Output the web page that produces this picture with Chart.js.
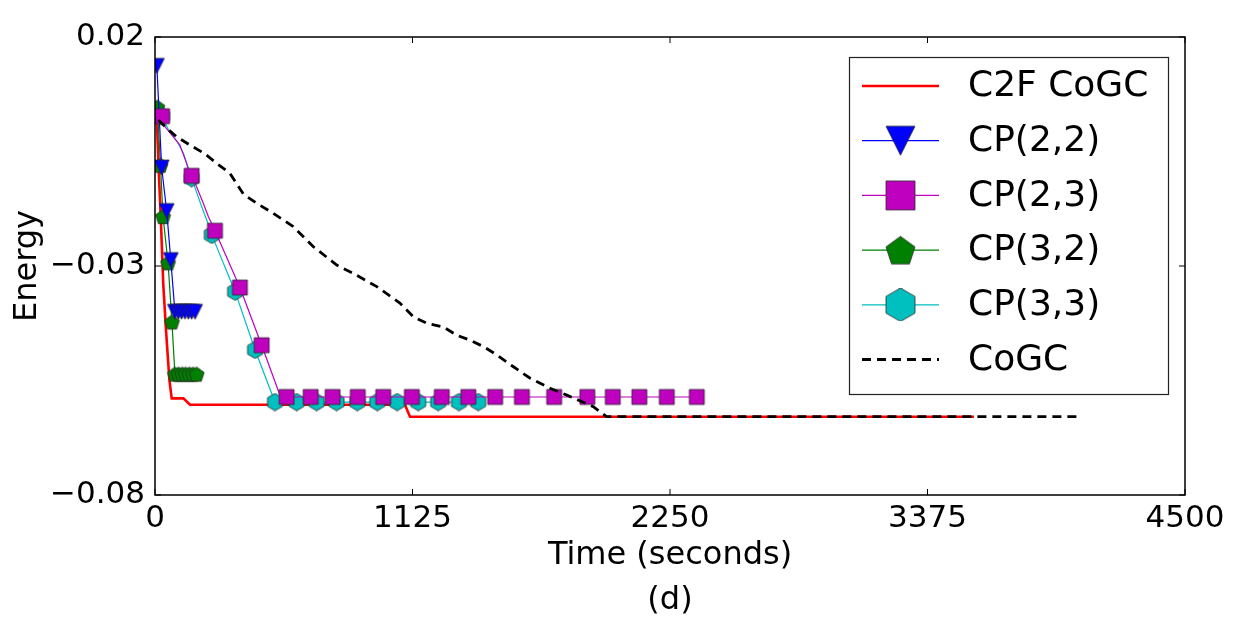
<!DOCTYPE html>
<html>
<head>
<meta charset="utf-8">
<script src="https://cdn.jsdelivr.net/npm/chart.js@4.4.1/dist/chart.umd.min.js"></script>
<style>
  body { margin: 0; background: #fff; }
  #wrap { width: 1237px; height: 634px; }
</style>
</head>
<body>
<div id="wrap"><canvas id="chart" width="1237" height="634"></canvas></div>
<script>
// values (time in seconds, energy)
const xTicks = [0, 1125, 2250, 3375, 4500];
const yTicks = [-0.08, -0.03, 0.02];

const c2fTime   = [5, 15, 25, 36, 48, 63, 73, 124, 153, 1092, 1114, 3578];
const c2fEnergy = [0.006, -0.0076, -0.0192, -0.0338, -0.044, -0.0549, -0.0589, -0.0589, -0.0603, -0.0603, -0.0629, -0.0629];

const cp22Time   = [8, 29, 51, 69, 87, 102, 116, 131, 146, 160, 175];
const cp22Energy = [0.0137, -0.0085, -0.018, -0.0287, -0.04, -0.04, -0.04, -0.04, -0.04, -0.04, -0.04];
const cp22Marks  = [0, 1, 2, 3, 4, 5, 6, 7, 8, 9, 10];

const cp23Time   = [31, 44, 80, 109, 138, 146, 160, 175, 211, 233, 262, 371, 466, 546, 575, 680, 776, 886, 997, 1122,
                    1253, 1369, 1486, 1603, 1744, 1889, 2000, 2116, 2236, 2367];
const cp23Energy = [0.0027, 0.0004, -0.0018, -0.0036, -0.0076, -0.009, -0.0103, -0.0119, -0.0163, -0.0192, -0.0223,
                    -0.0347, -0.0473, -0.0582, -0.0586, -0.0586, -0.0586, -0.0586, -0.0586, -0.0586,
                    -0.0586, -0.0586, -0.0586, -0.0586, -0.0586, -0.0586, -0.0586, -0.0586, -0.0586, -0.0586];
const cp23Marks  = [0, 6, 10, 11, 12, 14, 15, 16, 17, 18, 19, 20, 21, 22, 23, 24, 25, 26, 27, 28, 29];

const cp32Time   = [10, 24, 35, 57, 74, 87, 103, 119, 134, 150, 166, 182];
const cp32Energy = [0.0047, -0.008, -0.0192, -0.0293, -0.0422, -0.0536, -0.0536, -0.0536, -0.0536, -0.0536, -0.0536, -0.0536];
const cp32Marks  = [0, 1, 2, 3, 4, 5, 6, 7, 8, 9, 10, 11];

const cp33Time   = [31, 60, 95, 125, 160, 200, 230, 248, 350, 437, 524, 619, 706, 793, 884, 971, 1058, 1150, 1237, 1328, 1412];
const cp33Energy = [0.0027, -0.0004, -0.0027, -0.0055, -0.0108, -0.0165, -0.0205, -0.0232, -0.0356, -0.0483,
                    -0.0597, -0.0597, -0.0597, -0.0597, -0.0597, -0.0597, -0.0597, -0.0597, -0.0597, -0.0597, -0.0597];
const cp33Marks  = [0, 4, 7, 8, 9, 10, 11, 12, 13, 14, 15, 16, 17, 18, 19, 20];

const cogcTime   = [15, 51, 95, 153, 218, 270, 328, 386, 444, 517, 604, 692, 794, 866, 969, 1070, 1129, 1187, 1260,
                    1318, 1377, 1435, 1493, 1566, 1639, 1726, 1799, 1864, 1915, 1973, 4050];
const cogcEnergy = [0.0019, 0.0001, -0.0018, -0.0036, -0.0055, -0.0076, -0.0098, -0.0143, -0.0163, -0.0185, -0.0214,
                    -0.0258, -0.0298, -0.0316, -0.0345, -0.0381, -0.0411, -0.0425, -0.0433, -0.0451, -0.0462, -0.0476,
                    -0.0494, -0.052, -0.0545, -0.0567, -0.0582, -0.0596, -0.0607, -0.0629, -0.0629];

const FONT = '"DejaVu Sans", sans-serif';

// matplotlib-like marker glyphs drawn into small canvases
function marker(kind, size, fill) {
  const c = document.createElement('canvas');
  c.width = c.height = Math.ceil(size + 4);
  const g = c.getContext('2d');
  const m = c.width / 2, r = size / 2;
  g.beginPath();
  if (kind === 'square') {
    g.rect(m - r, m - r, size, size);
  } else if (kind === 'tri') {
    g.moveTo(m - r, m - r); g.lineTo(m + r, m - r); g.lineTo(m, m + r); g.closePath();
  } else {
    const n = kind === 'pent' ? 5 : 6;
    const R = kind === 'pent' ? r / Math.sin(2 * Math.PI / 5) : r / Math.cos(Math.PI / 6);
    for (let i = 0; i < n; i++) {
      const a = -Math.PI / 2 + i * 2 * Math.PI / n;
      const px = m + R * Math.cos(a), py = m + R * Math.sin(a) + (kind === 'pent' ? R * 0.1 : 0);
      i ? g.lineTo(px, py) : g.moveTo(px, py);
    }
    g.closePath();
  }
  g.fillStyle = fill; g.fill();
  g.strokeStyle = '#2a2a2a'; g.lineWidth = 0.8; g.stroke();
  return c;
}

function pts(t, e) { return t.map((v, i) => ({ x: v, y: e[i] })); }
function radii(n, marks) { const r = new Array(n).fill(0); marks.forEach(i => r[i] = 7); return r; }

function series(label, color, t, e, marks, kind, order, extra) {
  return Object.assign({
    label, order,
    data: pts(t, e),
    borderColor: color,
    backgroundColor: color,
    borderWidth: 1.2,
    pointStyle: kind ? marker(kind, 15, color) : false,
    pointRadius: kind ? radii(t.length, marks) : 0,
    pointHoverRadius: kind ? radii(t.length, marks) : 0,
    legendMarker: kind ? marker(kind, 29, color) : null,
    tension: 0, fill: false, clip: 0
  }, extra || {});
}

const datasets = [
  series('C2F CoGC', '#ff0000', c2fTime, c2fEnergy, [], null, 5, { borderWidth: 2.6 }),
  series('CP(2,2)', '#0000ff', cp22Time, cp22Energy, cp22Marks, 'tri', 2),
  series('CP(2,3)', '#bf00bf', cp23Time, cp23Energy, cp23Marks, 'square', 1),
  series('CP(3,2)', '#008000', cp32Time, cp32Energy, cp32Marks, 'pent', 4),
  series('CP(3,3)', '#00bfbf', cp33Time, cp33Energy, cp33Marks, 'hex', 3),
  series('CoGC', '#000000', cogcTime, cogcEnergy, [], null, 0, { borderWidth: 2.8, borderDash: [9, 6] })
];

const frame = {
  id: 'frame',
  afterDatasetsDraw(chart) {
    const { ctx, chartArea: a, scales: { x, y } } = chart;
    ctx.save();
    ctx.strokeStyle = '#000';
    ctx.lineWidth = 1;
    ctx.beginPath();
    x.ticks.forEach(t => {
      const p = x.getPixelForValue(t.value);
      ctx.moveTo(p, a.bottom); ctx.lineTo(p, a.bottom - 6);
      ctx.moveTo(p, a.top); ctx.lineTo(p, a.top + 6);
    });
    y.ticks.forEach(t => {
      const p = y.getPixelForValue(t.value);
      ctx.moveTo(a.left, p); ctx.lineTo(a.left + 6, p);
      ctx.moveTo(a.right, p); ctx.lineTo(a.right - 6, p);
    });
    ctx.stroke();
    ctx.lineWidth = 1.5;
    ctx.strokeRect(a.left, a.top, a.right - a.left, a.bottom - a.top);
    ctx.restore();
  },
  afterDraw(chart) {
    // legend box, upper right, like matplotlib's
    const { ctx, chartArea: a } = chart;
    const left = a.right - 336, top = a.top + 20, w = 319, h = 337;
    ctx.save();
    ctx.fillStyle = '#fff';
    ctx.fillRect(left, top, w, h);
    ctx.strokeStyle = '#222';
    ctx.lineWidth = 1.2;
    ctx.strokeRect(left + 0.5, top + 0.5, w, h);
    ctx.font = '36px ' + FONT;
    ctx.textBaseline = 'middle';
    ctx.textAlign = 'left';
    chart.data.datasets.forEach((ds, i) => {
      const cy = top + 29 + i * 54.7;
      const x0 = left + 13, x1 = left + 90;
      ctx.strokeStyle = ds.borderColor;
      ctx.lineWidth = ds.borderWidth;
      ctx.setLineDash(ds.borderDash || []);
      ctx.beginPath(); ctx.moveTo(x0, cy); ctx.lineTo(x1, cy); ctx.stroke();
      ctx.setLineDash([]);
      if (ds.legendMarker) {
        const m = ds.legendMarker;
        ctx.drawImage(m, (x0 + x1) / 2 - m.width / 2, cy - m.height / 2);
      }
      ctx.fillStyle = '#000';
      ctx.fillText(ds.label, left + 119, cy + 1);
    });
    ctx.restore();
  }
};

const fmt = v => (Math.round(v * 100) / 100).toFixed(2).replace('-', '\u2212');

new Chart(document.getElementById('chart'), {
  type: 'line',
  data: { datasets },
  options: {
    responsive: false,
    animation: false,
    events: [],
    layout: { padding: { top: 37, right: 52, left: 0, bottom: 0 } },
    plugins: { legend: { display: false }, tooltip: { enabled: false } },
    scales: {
      x: {
        type: 'linear',
        min: xTicks[0], max: xTicks[xTicks.length - 1],
        afterBuildTicks: s => { s.ticks = xTicks.map(v => ({ value: v })); },
        afterFit: s => { s.height = 139; },
        grid: { display: false, drawTicks: false },
        border: { display: false },
        ticks: { color: '#000', font: { family: FONT, size: 31 }, padding: 5, maxRotation: 0, autoSkip: false,
                 callback: v => String(v) },
        title: { display: true, text: ['Time (seconds)', '(d)'], color: '#000',
                 font: { family: FONT, size: 32, lineHeight: 1.4 }, padding: { top: 0, bottom: 11 } }
      },
      y: {
        type: 'linear',
        min: yTicks[0], max: yTicks[yTicks.length - 1],
        afterBuildTicks: s => { s.ticks = yTicks.map(v => ({ value: v })); },
        afterFit: s => { s.width = 155; },
        grid: { display: false, drawTicks: false },
        border: { display: false },
        ticks: { color: '#000', font: { family: FONT, size: 31 }, padding: 10, callback: v => fmt(v) },
        title: { display: true, text: 'Energy', color: '#000',
                 font: { family: FONT, size: 32, lineHeight: 1.2 }, padding: { top: 8, bottom: 0 } }
      }
    }
  },
  plugins: [frame]
});
</script>
</body>
</html>
